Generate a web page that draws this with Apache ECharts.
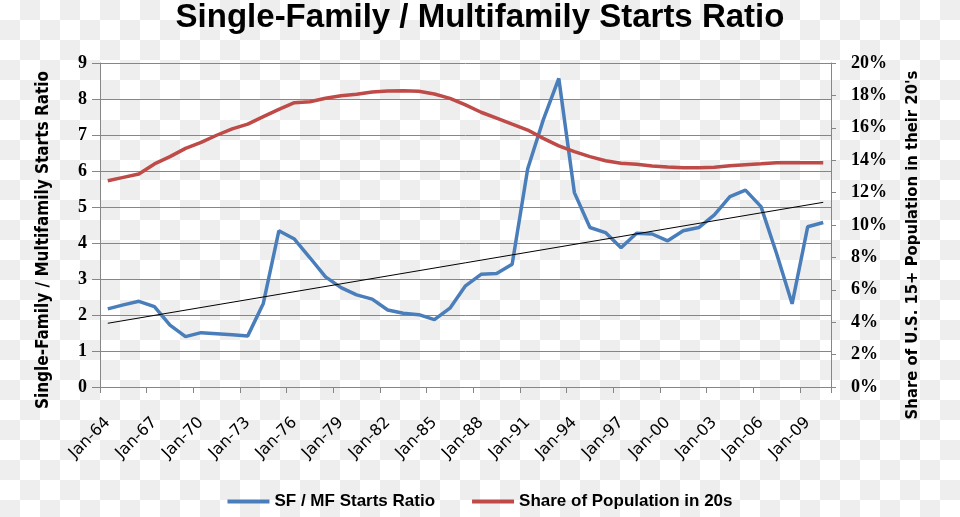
<!DOCTYPE html>
<html>
<head>
<meta charset="utf-8">
<script src="https://cdn.jsdelivr.net/npm/echarts@6/dist/echarts.min.js"></script>
<style>
html,body{margin:0;padding:0;}
body{width:960px;height:517px;overflow:hidden;
background-color:#fff;
background-image:conic-gradient(#eeeeee 0 25%, #ffffff 0 50%, #eeeeee 0 75%, #ffffff 0);
background-size:40px 40px;background-position:0 0;}
#chart{width:960px;height:517px;}
</style>
</head>
<body>
<div id="chart"></div>
<script>
// Category labels (one per year, 1964..2010)
var categories = ['Jan-64','Jan-65','Jan-66','Jan-67','Jan-68','Jan-69','Jan-70','Jan-71','Jan-72','Jan-73',
  'Jan-74','Jan-75','Jan-76','Jan-77','Jan-78','Jan-79','Jan-80','Jan-81','Jan-82','Jan-83',
  'Jan-84','Jan-85','Jan-86','Jan-87','Jan-88','Jan-89','Jan-90','Jan-91','Jan-92','Jan-93',
  'Jan-94','Jan-95','Jan-96','Jan-97','Jan-98','Jan-99','Jan-00','Jan-01','Jan-02','Jan-03',
  'Jan-04','Jan-05','Jan-06','Jan-07','Jan-08','Jan-09','Jan-10'];

// SF / MF starts ratio (left axis)
var sfmfRatio = [2.17,2.28,2.38,2.23,1.72,1.40,1.51,1.48,1.45,1.42,
  2.32,4.34,4.11,3.59,3.06,2.76,2.56,2.44,2.14,2.05,
  2.01,1.87,2.19,2.81,3.13,3.15,3.41,6.06,7.42,8.57,
  5.40,4.43,4.29,3.87,4.27,4.25,4.06,4.34,4.43,4.78,
  5.29,5.47,5.01,3.71,2.31,4.45,4.57];

// Share of population in 20s (right axis, %)
var shareIn20s = [12.73,12.94,13.15,13.77,14.22,14.73,15.10,15.54,15.93,16.23,
  16.69,17.14,17.55,17.61,17.82,17.98,18.07,18.21,18.27,18.29,
  18.25,18.09,17.82,17.41,16.96,16.59,16.22,15.86,15.35,14.88,
  14.53,14.22,13.97,13.81,13.75,13.64,13.58,13.54,13.54,13.56,
  13.66,13.72,13.78,13.85,13.85,13.85,13.85];

// Linear trendline end values (first and last year)
var trendEnds = [1.77, 5.13];

var trendData = categories.map(function(c, i){
  if (i === 0) return trendEnds[0];
  if (i === categories.length - 1) return trendEnds[1];
  return null;
});

var chart = echarts.init(document.getElementById('chart'), null, {renderer:'canvas'});
var gridColor = '#868686';
var option = {
  backgroundColor: 'transparent',
  animation: false,
  title: {
    text: 'Single-Family / Multifamily Starts Ratio',
    left: 'center', top: -4,
    textStyle: {fontFamily:'Liberation Sans', fontWeight:'bold', fontSize:33, color:'#000'}
  },
  legend: {
    bottom: 2, left: 'center',
    icon: 'rect', itemWidth: 42, itemHeight: 4, itemGap: 37,
    data: ['SF / MF Starts Ratio', 'Share of Population in 20s'],
    textStyle: {fontFamily:'Liberation Sans', fontWeight:'bold', fontSize:17, color:'#000'}
  },
  grid: {left: 100, right: 129, top: 63, bottom: 130, containLabel: false},
  xAxis: {
    type: 'category',
    data: categories,
    boundaryGap: true,
    axisLine: {show: true, lineStyle: {color: gridColor, width: 1}},
    axisTick: {show: true, interval: 2, length: 6, lineStyle: {color: gridColor}},
    axisLabel: {interval: 2, rotate: 45, margin: 33, fontFamily:'DejaVu Sans', fontSize:16, color:'#000'},
    splitLine: {show: false}
  },
  yAxis: [{
    type: 'value', min: 0, max: 9, interval: 1,
    axisLine: {show: true, lineStyle: {color: gridColor, width: 1}},
    axisTick: {show: true, length: 8, lineStyle: {color: gridColor}},
    axisLabel: {margin: 13, fontFamily:'Liberation Serif', fontWeight:'bold', fontSize:18, color:'#000'},
    splitLine: {show: true, lineStyle: {color: gridColor, width: 1}}
  }, {
    type: 'value', min: 0, max: 20, interval: 2, position: 'right',
    axisLine: {show: true, lineStyle: {color: gridColor, width: 1}},
    axisTick: {show: true, length: 5, lineStyle: {color: gridColor}},
    axisLabel: {margin: 20, fontFamily:'Liberation Serif', fontWeight:'bold', fontSize:18, color:'#000',
      formatter: function(v){ return v + '%'; }},
    splitLine: {show: false}
  }],
  graphic: [{
    type: 'text', x: 44, y: 240, rotation: Math.PI/2,
    style: {text: 'Single-Family / Multifamily Starts Ratio', fill:'#000',
      font: 'bold 17px "DejaVu Sans Condensed"', textAlign:'center', textVerticalAlign:'middle', align:'center', verticalAlign:'middle'}
  }, {
    type: 'text', x: 913, y: 245, rotation: Math.PI/2,
    style: {text: "Share of U.S. 15+ Population in their 20's", fill:'#000',
      font: 'bold 16.5px "DejaVu Sans Condensed"', textAlign:'center', textVerticalAlign:'middle', align:'center', verticalAlign:'middle'}
  }],
  series: [{
    name: 'SF / MF Starts Ratio', type: 'line', yAxisIndex: 0,
    data: sfmfRatio, showSymbol: false, symbol: 'none',
    lineStyle: {color: '#4A7EBB', width: 3.5}, itemStyle: {color: '#4A7EBB'}, z: 3
  }, {
    name: 'Share of Population in 20s', type: 'line', yAxisIndex: 1,
    data: shareIn20s, showSymbol: false, symbol: 'none',
    lineStyle: {color: '#BE4B48', width: 3.5}, itemStyle: {color: '#BE4B48'}, z: 3
  }, {
    name: 'Trend', type: 'line', yAxisIndex: 0,
    data: trendData, connectNulls: true, showSymbol: false, symbol: 'none',
    lineStyle: {color: '#000', width: 1}, itemStyle: {color:'#000'}, z: 4, silent: true
  }]
};
chart.setOption(option);
</script>
</body>
</html>
